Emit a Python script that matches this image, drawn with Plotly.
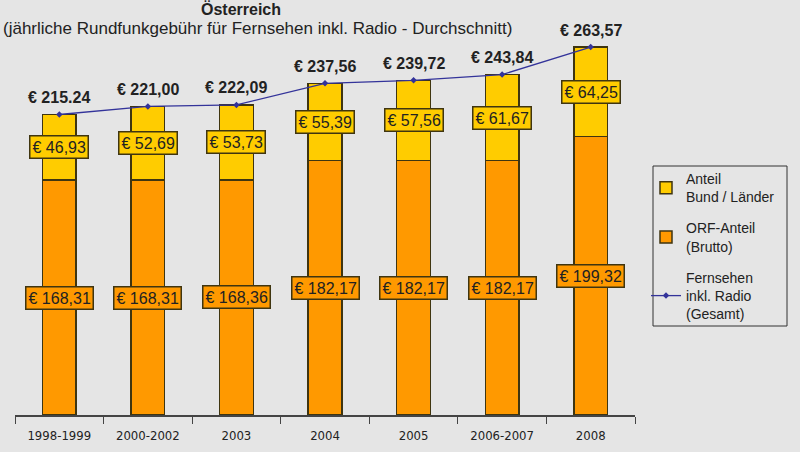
import plotly.graph_objects as go

categories = ["1998-1999", "2000-2002", "2003", "2004", "2005", "2006-2007", "2008"]
orf_share = [168.31, 168.31, 168.36, 182.17, 182.17, 182.17, 199.32]
state_share = [46.93, 52.69, 53.73, 55.39, 57.56, 61.67, 64.25]
totals = [215.24, 221.00, 222.09, 237.56, 239.72, 243.84, 263.57]
orf_labels = ["€ 168,31", "€ 168,31", "€ 168,36", "€ 182,17", "€ 182,17", "€ 182,17", "€ 199,32"]
state_labels = ["€ 46,93", "€ 52,69", "€ 53,73", "€ 55,39", "€ 57,56", "€ 61,67", "€ 64,25"]
total_labels = ["€ 215.24", "€ 221,00", "€ 222,09", "€ 237,56", "€ 239,72", "€ 243,84", "€ 263,57"]

ORANGE = "#ff9900"
YELLOW = "#ffcc00"
EDGE = "#3f3510"
LINE = "#33339a"
BG = "#e5e5e5"
FONT = "Liberation Sans, Arial, sans-serif"
NARROW = "DejaVu Sans Condensed, Liberation Sans Narrow, Arial Narrow, sans-serif"

W, H = 800, 452
L, R, T, B = 15, 165, 40, 37
PW, PH = W - L - R, H - T - B


def px(xp):
    return (xp - L) / PW


def py(yp):
    return (H - B - yp) / PH


fig = go.Figure()
fig.add_trace(go.Bar(
    x=categories, y=orf_share, name="ORF-Anteil<br>(Brutto)",
    marker=dict(color=ORANGE, line=dict(color=EDGE, width=1.5)),
    width=0.38, legendrank=2, legendgroup="b", hoverinfo="skip"))
fig.add_trace(go.Bar(
    x=categories, y=state_share, name="Anteil<br>Bund / Länder",
    marker=dict(color=YELLOW, line=dict(color=EDGE, width=1.5)),
    width=0.38, legendrank=1, legendgroup="a", hoverinfo="skip"))
fig.add_trace(go.Scatter(
    x=categories, y=totals, name="Fernsehen<br>inkl. Radio<br>(Gesamt)",
    mode="lines+markers", line=dict(color=LINE, width=1.3),
    marker=dict(symbol="diamond", size=5, color=LINE),
    legendrank=3, legendgroup="c", hoverinfo="skip"))

annotations = []
for i, (o, s, t, ol, sl, tl) in enumerate(zip(orf_share, state_share, totals,
                                               orf_labels, state_labels, total_labels)):
    annotations.append(dict(x=i, y=o / 2, text=ol, showarrow=False,
                            font=dict(size=16, color="#222", family=FONT),
                            bgcolor=ORANGE, bordercolor=EDGE, borderwidth=1.5, borderpad=2))
    annotations.append(dict(x=i, y=o + s / 2, text=sl, showarrow=False,
                            font=dict(size=16, color="#222", family=FONT),
                            bgcolor=YELLOW, bordercolor=EDGE, borderwidth=1.5, borderpad=2))
    annotations.append(dict(x=i, y=t, text="<b>" + tl + "</b>", showarrow=False,
                            yshift=17, font=dict(size=16, color="#222", family=FONT)))

annotations.append(dict(xref="paper", yref="paper", x=px(241), y=py(9),
                        text="<b>Österreich</b>", showarrow=False, yanchor="middle",
                        font=dict(size=16, color="#222", family=FONT)))
annotations.append(dict(xref="paper", yref="paper", x=px(257), y=py(29),
                        text="(jährliche Rundfunkgebühr für Fernsehen inkl. Radio - Durchschnitt)",
                        showarrow=False, yanchor="middle",
                        font=dict(size=17, color="#222", family=FONT)))

shapes = [dict(type="rect", xref="paper", yref="paper",
               x0=px(653), x1=px(787), y0=py(326), y1=py(166),
               line=dict(color="#333", width=1), fillcolor="rgba(0,0,0,0)", layer="above")]

fig.update_layout(
    width=W, height=H,
    margin=dict(l=L, r=R, t=T, b=B),
    paper_bgcolor=BG, plot_bgcolor=BG,
    barmode="stack",
    font=dict(family=FONT, color="#222"),
    showlegend=True,
    legend=dict(x=px(646), y=py(163), xanchor="left", yanchor="top",
                traceorder="grouped", tracegroupgap=10,
                bgcolor="rgba(0,0,0,0)", borderwidth=0,
                font=dict(size=14, family=FONT, color="#222")),
    annotations=annotations,
    shapes=shapes,
    xaxis=dict(type="category", range=[-0.5, 6.5], tickson="boundaries", ticks="outside",
               ticklen=7, tickwidth=1.2, tickcolor="#444", showline=True, linecolor="#444",
               linewidth=1.5, showgrid=False, tickangle=0, ticklabelstandoff=8,
               automargin=False,
               tickfont=dict(size=13, family=NARROW, color="#222")),
    yaxis=dict(range=[0, 268.6], visible=False, showgrid=False, zeroline=False),
)

fig.write_html("out.html", config={"displayModeBar": False},
               post_script="document.body.style.margin='0';document.body.style.background='%s';" % BG)
